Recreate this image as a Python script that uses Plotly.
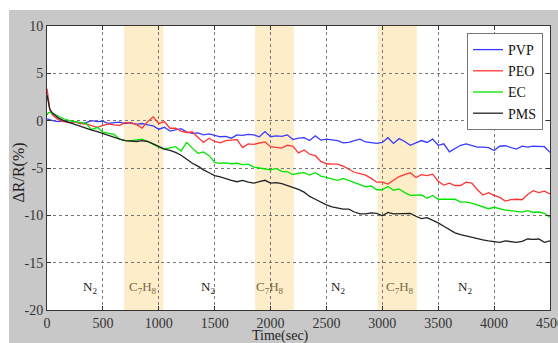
import plotly.graph_objects as go

# ---------------- data ----------------
time_sec = [0, 10, 25] + list(range(50, 4501, 50))

pvp = [0.2, 0.15, 0.1, 0.0, -0.1, 0.0, -0.2, -0.1, -0.3, -0.2, 0.0, -0.1,
       -0.05, -0.3, -0.2, -0.15, -0.3, -0.2, -0.4, -0.3, -0.45, -0.55, -0.9, -0.7,
       -1.1, -0.95, -0.85, -1.2, -1.35, -1.3, -1.5, -1.4, -1.55, -1.7, -1.65, -1.85,
       -1.5, -1.55, -1.45, -1.5, -1.7, -1.15, -1.7, -1.6, -1.65, -1.5, -2.0, -1.85,
       -1.8, -2.1, -1.6, -2.05, -1.95, -2.05, -2.1, -2.35, -2.3, -2.1, -1.95, -2.25,
       -2.3, -2.4, -2.3, -1.8, -2.4, -1.9, -2.2, -2.6, -2.35, -2.1, -2.3, -1.95,
       -2.6, -2.45, -3.3, -2.95, -2.6, -2.45, -2.65, -2.8, -2.8, -2.85, -3.15, -2.7,
       -2.65, -2.85, -3.0, -2.7, -2.8, -2.7, -2.7, -2.75, -3.35]

peo = [3.4, 2.2, 1.2, 0.6, 0.1, -0.1, -0.2, -0.1, -0.3, -0.35, -0.5, -0.7,
       -0.5, -0.35, -0.45, -0.5, -0.2, -0.25, -0.4, -0.8, -0.1, 0.4, -0.3, -0.1,
       -0.8, -0.8, -1.1, -1.25, -1.2, -1.7, -2.3, -1.85, -2.2, -2.35, -2.1, -2.05,
       -2.0, -2.85, -2.45, -2.5, -2.35, -2.25, -2.75, -2.8, -2.9, -2.6, -2.7, -3.4,
       -3.1, -3.55, -3.7, -4.3, -4.55, -4.6, -4.6, -4.8, -5.1, -5.45, -5.6, -5.75,
       -6.1, -6.5, -6.5, -6.7, -6.3, -5.9, -5.7, -5.5, -6.0, -5.7, -5.8, -5.65,
       -6.4, -6.8, -6.6, -6.85, -6.85, -6.5, -6.6, -7.3, -7.85, -7.6, -7.9, -8.1,
       -8.5, -8.35, -8.3, -8.35, -7.8, -7.4, -7.6, -7.45, -7.75]

ec = [0.6, 0.8, 0.9, 0.75, 0.5, 0.2, 0.0, -0.1, -0.2, -0.3, -0.95, -0.7,
      -1.2, -1.3, -1.45, -1.95, -2.1, -2.1, -2.0, -1.95, -2.2, -2.5, -2.8, -3.0,
      -2.9, -2.75, -3.2, -2.3, -2.9, -3.45, -3.3, -3.7, -4.4, -4.5, -4.45, -4.55,
      -4.5, -4.65, -4.6, -4.9, -5.0, -5.1, -5.2, -5.05, -5.35, -5.4, -5.7, -5.55,
      -5.5, -5.75, -5.5, -5.85, -6.0, -6.15, -6.3, -6.1, -6.3, -6.55, -6.75, -7.0,
      -6.9, -7.3, -7.3, -6.95, -7.35, -7.2, -7.6, -7.9, -7.9, -7.85, -8.2, -7.9,
      -8.3, -8.3, -8.3, -8.3, -8.6, -8.6, -8.7, -8.9, -9.1, -9.3, -9.15, -9.3,
      -9.45, -9.5, -9.6, -9.65, -9.5, -9.7, -9.65, -9.8, -10.2]

pms = [2.7, 1.9, 1.2, 0.8, 0.3, 0.0, -0.2, -0.45, -0.65, -0.85, -1.0, -1.15,
       -1.35, -1.6, -1.8, -1.95, -2.1, -2.15, -2.2, -2.1, -2.2, -2.45, -2.7, -3.0,
       -3.15, -3.35, -3.65, -4.1, -4.5, -4.8, -5.2, -5.5, -5.8, -5.95, -6.15, -6.3,
       -6.45, -6.3, -6.5, -6.6, -6.45, -6.3, -6.6, -6.55, -6.65, -6.85, -7.0, -7.25,
       -7.55, -8.0, -8.3, -8.6, -8.9, -9.1, -9.2, -9.35, -9.35, -9.65, -9.85, -9.85,
       -9.75, -9.8, -10.05, -9.7, -9.85, -9.85, -9.85, -9.8, -10.1, -10.35, -10.25, -10.5,
       -10.8, -11.15, -11.5, -11.85, -12.05, -12.2, -12.3, -12.45, -12.6, -12.7, -12.75, -12.85,
       -12.7, -12.8, -12.85, -12.75, -12.5, -12.55, -12.5, -12.85, -12.7]

series_names = ["PVP", "PEO", "EC", "PMS"]
series_values = [pvp, peo, ec, pms]
series_colors = ["#3a3aff", "#ff3333", "#00e600", "#222222"]

band_starts = [690, 1860, 2960]
band_ends = [1040, 2210, 3310]

region_labels = ["N<sub>2</sub>", "C<sub>7</sub>H<sub>8</sub>", "N<sub>2</sub>",
                 "C<sub>7</sub>H<sub>8</sub>", "N<sub>2</sub>", "C<sub>7</sub>H<sub>8</sub>",
                 "N<sub>2</sub>"]
region_label_x = [385, 860, 1440, 1995, 2600, 3160, 3740]
region_label_y = -17.6

x_tick_vals = [0, 500, 1000, 1500, 2000, 2500, 3000, 3500, 4000, 4500]
x_tick_text = ["0", "500", "1000", "1500", "2000", "2500", "3000", "3500", "4000", "4500"]
y_tick_vals = [-20, -15, -10, -5, 0, 5, 10]
y_tick_text = ["-20", "-15", "-10", "-5", "0", "5", "10"]

# ---------------- figure ----------------
W, H = 558, 343
ML, MR, MT, MB = 47, 8, 26, 33
PW, PH = W - ML - MR, H - MT - MB
SERIF = "Liberation Serif, Times New Roman, serif"

fig = go.Figure()
for name, vals, col in zip(series_names, series_values, series_colors):
    fig.add_trace(go.Scatter(x=time_sec, y=vals, mode="lines", name=name,
                             legendgroup=name,
                             line=dict(color=col, width=1.3)))

shapes = []
for s, e in zip(band_starts, band_ends):
    shapes.append(dict(type="rect", xref="x", yref="paper", x0=s, x1=e, y0=0, y1=1,
                       fillcolor="#fdedc9", line=dict(width=0), layer="below"))
# white strips at top and left of the grey figure frame
shapes.append(dict(type="rect", xref="paper", yref="paper",
                   x0=-ML / PW - 0.01, x1=1 + MR / PW + 0.01,
                   y0=1 + (MT - 10) / PH, y1=1 + MT / PH + 0.01,
                   fillcolor="white", line=dict(width=0), layer="below"))
shapes.append(dict(type="rect", xref="paper", yref="paper",
                   x0=-ML / PW - 0.01, x1=-(ML - 9) / PW,
                   y0=-MB / PH - 0.01, y1=1 + MT / PH + 0.01,
                   fillcolor="white", line=dict(width=0), layer="below"))

annotations = []
for lab, lx in zip(region_labels, region_label_x):
    col = "#222222" if lab.startswith("N") else "#7a6a48"
    annotations.append(dict(x=lx, y=region_label_y, xref="x", yref="y", text=lab,
                            showarrow=False, font=dict(family=SERIF, size=13, color=col)))
annotations.append(dict(x=2085, y=-(336 - (MT + PH)) / PH, xref="x", yref="paper",
                        text="Time(sec)", showarrow=False, yanchor="middle",
                        font=dict(family=SERIF, size=14, color="#222222")))
annotations.append(dict(x=-(ML - 18) / PW, y=(H - MB - 172.5) / PH, xref="paper", yref="paper",
                        text="ΔR/R(%)", showarrow=False, textangle=-90,
                        xanchor="center", yanchor="middle",
                        font=dict(family=SERIF, size=16, color="#222222")))

axis_common = dict(showline=True, linecolor="#333333", linewidth=1, mirror="ticks",
                   ticks="inside", ticklen=4, tickcolor="#333333",
                   showgrid=True, gridcolor="#777777", griddash="dot", gridwidth=1,
                   zeroline=False, automargin=False, ticklabeloverflow="allow",
                   tickfont=dict(family=SERIF, size=14, color="#333333"))

fig.update_layout(
    width=W, height=H,
    margin=dict(l=ML, r=MR, t=MT, b=MB, pad=0, autoexpand=False),
    paper_bgcolor="#c8c8c8",
    plot_bgcolor="white",
    shapes=shapes,
    annotations=annotations,
    showlegend=True,
    legend=dict(x=(543 - ML) / PW, y=1 - (33 - MT) / PH, xanchor="right", yanchor="top",
                bgcolor="white", bordercolor="#777777", borderwidth=1,
                font=dict(family=SERIF, size=14, color="#111111"),
                tracegroupgap=0, itemwidth=30),
    xaxis=dict(range=[0, 4500], tickvals=x_tick_vals, ticktext=x_tick_text, **axis_common),
    yaxis=dict(range=[-20, 10], tickvals=y_tick_vals, ticktext=y_tick_text, **axis_common),
)

fig.write_html("out.html")
